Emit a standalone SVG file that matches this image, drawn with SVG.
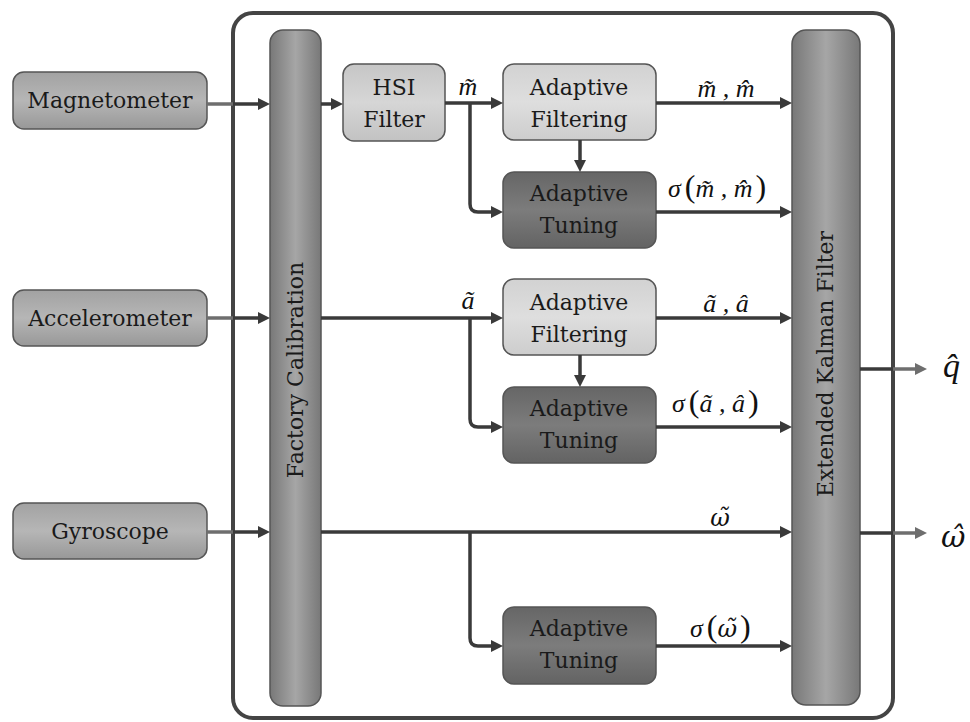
<svg xmlns="http://www.w3.org/2000/svg" width="970" height="722" viewBox="0 0 970 722">
<defs>
<linearGradient id="gSensor" x1="0" y1="0" x2="0" y2="1"><stop offset="0" stop-color="#a2a2a2"/><stop offset="0.5" stop-color="#b6b6b6"/><stop offset="1" stop-color="#989898"/></linearGradient>
<linearGradient id="gHSI" x1="0" y1="0" x2="0" y2="1"><stop offset="0" stop-color="#c6c6c6"/><stop offset="0.5" stop-color="#d6d6d6"/><stop offset="1" stop-color="#c2c2c2"/></linearGradient>
<linearGradient id="gAF" x1="0" y1="0" x2="0" y2="1"><stop offset="0" stop-color="#d2d2d2"/><stop offset="0.5" stop-color="#dedede"/><stop offset="1" stop-color="#cdcdcd"/></linearGradient>
<linearGradient id="gAT" x1="0" y1="0" x2="0" y2="1"><stop offset="0" stop-color="#666666"/><stop offset="0.5" stop-color="#7c7c7c"/><stop offset="1" stop-color="#636363"/></linearGradient>
<linearGradient id="gBar" x1="0" y1="0" x2="1" y2="0"><stop offset="0" stop-color="#787878"/><stop offset="0.5" stop-color="#a6a6a6"/><stop offset="1" stop-color="#787878"/></linearGradient>
<marker id="ah" viewBox="0 0 12 12" refX="6" refY="6" markerWidth="12" markerHeight="12" markerUnits="userSpaceOnUse" orient="auto"><path d="M0,0 L12,6 L0,12 Z" fill="#3a3a3a"/></marker>
<marker id="ahg" viewBox="0 0 12 12" refX="6" refY="6" markerWidth="12" markerHeight="12" markerUnits="userSpaceOnUse" orient="auto"><path d="M0,0 L12,6 L0,12 Z" fill="#6e6e6e"/></marker>
</defs>
<style>
.box{stroke:#555;stroke-width:1.5}
.lbl{font-family:"DejaVu Serif","Liberation Serif",serif;font-size:22px;fill:#1a1a1a;text-anchor:middle}
.math{font-family:"Liberation Serif","Times New Roman",serif;font-style:italic;font-size:26px;fill:#111}
.om{font-family:"DejaVu Serif",serif;font-style:italic;font-size:24px}
.par{font-style:normal;font-size:32px}
.big{font-size:34px}
.c{fill:none;stroke:#3a3a3a;stroke-width:3.5}
.cg{fill:none;stroke:#6e6e6e;stroke-width:3.5}
.a{marker-end:url(#ah)}
</style>

<g id="frame"><rect x="233" y="13" width="660" height="705" rx="20" fill="none" stroke="#444" stroke-width="4"/></g>

<g id="magnetometer"><rect class="box" x="13" y="72" width="194" height="57" rx="11" fill="url(#gSensor)"/><text class="lbl" x="110" y="108">Magnetometer</text></g>
<g id="accelerometer"><rect class="box" x="13" y="290" width="194" height="56" rx="11" fill="url(#gSensor)"/><text class="lbl" x="110" y="326">Accelerometer</text></g>
<g id="gyroscope"><rect class="box" x="13" y="503" width="194" height="56" rx="11" fill="url(#gSensor)"/><text class="lbl" x="110" y="539">Gyroscope</text></g>

<g id="factory-calibration"><rect class="box" x="270" y="30" width="51" height="676" rx="13" fill="url(#gBar)"/><text class="lbl" transform="translate(303,370) rotate(-90)">Factory Calibration</text></g>
<g id="ekf"><rect class="box" x="792" y="30" width="68" height="675" rx="14" fill="url(#gBar)"/><text class="lbl" transform="translate(833,364) rotate(-90)">Extended Kalman Filter</text></g>

<g id="hsi-filter"><rect class="box" x="343" y="64" width="102" height="77" rx="11" fill="url(#gHSI)"/><text class="lbl" x="394" y="95">HSI</text><text class="lbl" x="394" y="127">Filter</text></g>

<g id="af-m"><rect class="box" x="503" y="64" width="153" height="76" rx="11" fill="url(#gAF)"/><text class="lbl" x="579" y="95">Adaptive</text><text class="lbl" x="579" y="127">Filtering</text></g>
<g id="at-m"><rect class="box" x="503" y="172" width="153" height="76" rx="11" fill="url(#gAT)"/><text class="lbl" x="579" y="201">Adaptive</text><text class="lbl" x="579" y="233">Tuning</text></g>
<g id="af-a"><rect class="box" x="503" y="279" width="153" height="76" rx="11" fill="url(#gAF)"/><text class="lbl" x="579" y="310">Adaptive</text><text class="lbl" x="579" y="342">Filtering</text></g>
<g id="at-a"><rect class="box" x="503" y="387" width="153" height="76" rx="11" fill="url(#gAT)"/><text class="lbl" x="579" y="416">Adaptive</text><text class="lbl" x="579" y="448">Tuning</text></g>
<g id="at-w"><rect class="box" x="503" y="607" width="153" height="77" rx="11" fill="url(#gAT)"/><text class="lbl" x="579" y="636">Adaptive</text><text class="lbl" x="579" y="668">Tuning</text></g>

<g id="connectors">
<line class="cg" x1="207" y1="104" x2="233" y2="104"/>
<line class="c a" x1="233" y1="104" x2="264" y2="104"/>
<line class="c a" x1="321" y1="104" x2="337" y2="104"/>
<line class="c a" x1="445" y1="103" x2="497" y2="103"/>
<path class="c a" d="M470,103 V204 Q470,212 478,212 H497"/>
<line class="c a" x1="580" y1="140" x2="580" y2="166"/>
<line class="c a" x1="656" y1="103" x2="786" y2="103"/>
<line class="c a" x1="656" y1="212" x2="786" y2="212"/>

<line class="cg" x1="207" y1="318" x2="233" y2="318"/>
<line class="c a" x1="233" y1="318" x2="264" y2="318"/>
<line class="c a" x1="321" y1="318" x2="497" y2="318"/>
<path class="c a" d="M470,318 V419 Q470,427 478,427 H497"/>
<line class="c a" x1="580" y1="355" x2="580" y2="381"/>
<line class="c a" x1="656" y1="318" x2="786" y2="318"/>
<line class="c a" x1="656" y1="427" x2="786" y2="427"/>

<line class="cg" x1="207" y1="532" x2="233" y2="532"/>
<line class="c a" x1="233" y1="532" x2="264" y2="532"/>
<line class="c a" x1="321" y1="532" x2="786" y2="532"/>
<path class="c a" d="M470,532 V638 Q470,646 478,646 H497"/>
<line class="c a" x1="656" y1="646" x2="786" y2="646"/>

<line class="c" x1="860" y1="369" x2="893" y2="369"/>
<line class="cg" x1="893" y1="369" x2="921" y2="369" marker-end="url(#ahg)"/>
<line class="c" x1="860" y1="533" x2="893" y2="533"/>
<line class="cg" x1="893" y1="533" x2="921" y2="533" marker-end="url(#ahg)"/>
</g>

<g id="labels">
<text class="math" x="468" y="95" text-anchor="middle">m&#x0303;</text>
<text class="math" x="726" y="97" text-anchor="middle">m&#x0303; , m&#x0302;</text>
<text class="math" x="668" y="197">σ<tspan class="par" dx="4">(</tspan>m&#x0303; , m&#x0302;<tspan class="par" dx="3">)</tspan></text>
<text class="math" x="468" y="309" text-anchor="middle">a&#x0303;</text>
<text class="math" x="726" y="312" text-anchor="middle">a&#x0303; , a&#x0302;</text>
<text class="math" x="672" y="412">σ<tspan class="par" dx="4">(</tspan>a&#x0303; , a&#x0302;<tspan class="par" dx="3">)</tspan></text>
<text class="math om" x="720" y="526" text-anchor="middle">ω&#x0303;</text>
<text class="math" x="690" y="637">σ<tspan class="par" dx="4">(</tspan><tspan class="om">ω&#x0303;</tspan><tspan class="par" dx="3">)</tspan></text>
<text class="math big" x="943" y="377">q&#x0302;</text>
<text class="math om" x="941" y="547" style="font-size:30px">ω&#x0302;</text>
</g>
</svg>
